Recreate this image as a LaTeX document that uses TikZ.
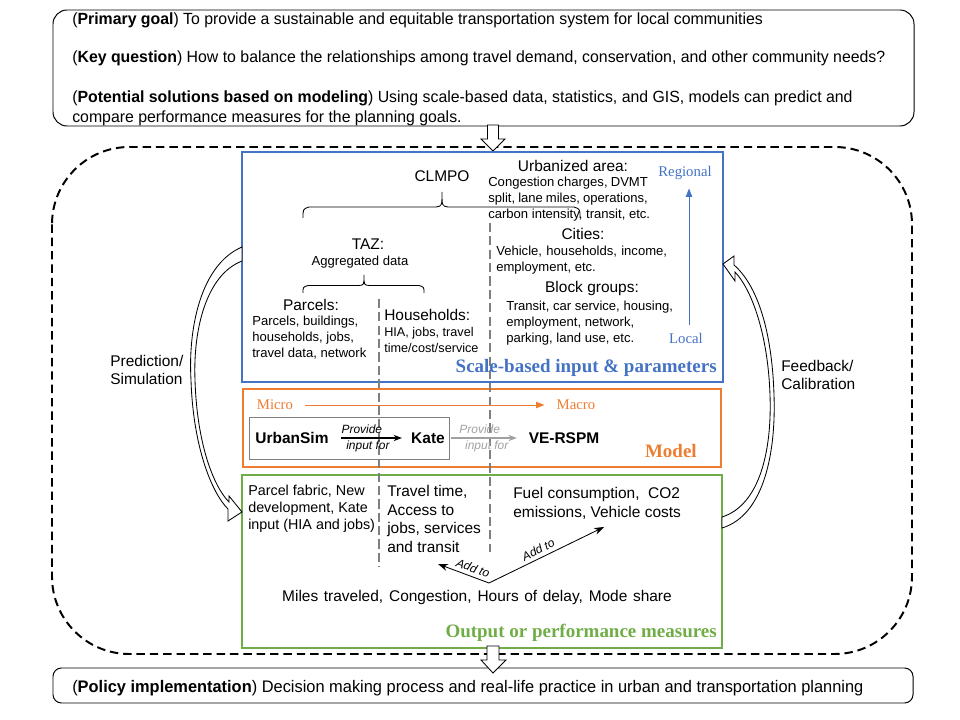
\documentclass[tikz,border=0pt]{standalone}
\usepackage{fontspec}
\setmainfont{Liberation Sans}
\newfontfamily\timesfont{Liberation Serif}
\newfontfamily\narrowfont[FakeStretch=0.98]{Liberation Sans}
\usetikzlibrary{arrows.meta}
\definecolor{scaleblue}{HTML}{4472C4}
\definecolor{modelorange}{HTML}{ED7D31}
\definecolor{outgreen}{HTML}{70AD47}
\definecolor{sepgray}{HTML}{7F7F7F}
\definecolor{softgray}{HTML}{A0A0A0}
\newcommand{\fullline}[2]{\makebox[#1][s]{#2}}

\begin{document}
\begin{tikzpicture}[x=0.025cm,y=-0.025cm]

\tikzset{smalltxt/.style={inner sep=0pt,align=left,font=\fontsize{9.3}{11.4}\selectfont}, %petit texte
	scalehead/.style={inner sep=0pt,font=\fontsize{11}{13}\selectfont},
	bodytxt/.style={inner sep=0pt,align=left,font=\fontsize{11}{13.3}\selectfont},
	narrowtxt/.style={inner sep=0pt,align=left,anchor=west,font=\narrowfont\fontsize{11.5}{14.2}\selectfont},
	boxtitle/.style={inner sep=0pt,anchor=east,font=\timesfont\bfseries\fontsize{13.5}{15}\selectfont},
	scalelbl/.style={inner sep=0pt,font=\timesfont\fontsize{10.5}{12}\selectfont},
	hollow/.style={draw=black,fill=white,line width=0.6pt},
	sepline/.style={sepgray,line width=1.3pt,dash pattern=on 6.5pt off 3pt},
	provide/.style={inner sep=0pt,font=\itshape\fontsize{8.5}{10}\selectfont},
	modelname/.style={inner sep=0pt,font=\bfseries\fontsize{11}{13}\selectfont}}

\useasboundingbox (0,0) rectangle (960,720);

%----------goal box------------
\draw[rounded corners=10pt,line width=0.7pt] (53,10) rectangle (914,126);
\node[narrowtxt] (goal) at (72,20) {(\textbf{Primary goal}) To provide a sustainable and equitable transportation system for local communities};
\node[narrowtxt] (question) at (72,58) {(\textbf{Key question}) How to balance the relationships among travel demand, conservation, and other community needs?};
\node[narrowtxt] (solution) at (72,108) {(\textbf{Potential solutions based on modeling}) Using scale-based data, statistics, and GIS, models can predict and\\compare performance measures for the planning goals.};

%cadre en tirets
\draw[line width=1.4pt,dash pattern=on 6pt off 3.5pt,rounded corners=55pt] (52,147) rectangle (912,654);

\draw[hollow] (487.5,125) -- (498.5,125) -- (498.5,139) -- (505,139) -- (493,151) -- (481,139) -- (487.5,139) -- cycle;

%----------boxes------------
\draw[scaleblue,line width=1.4pt] (242,152) rectangle (723,382);
\draw[modelorange,line width=1.4pt] (243,389) rectangle (721,467);
\draw[outgreen,line width=1.4pt] (242,475) rectangle (722,648);

%separateurs
\draw[sepline] (379,299) -- (379,567);
\draw[sepline] (490,223) -- (490,552);

%----------scale-based input------------
\node[scalehead] (clmpo) at (442,176) {CLMPO};
\draw[line width=0.6pt] (303,218) .. controls (303,209) .. (309,207) -- (436,207) .. controls (442,206) .. (442,192) .. controls (442,206) .. (448,207) -- (574,207) .. controls (580,209) .. (580,218);

\node[scalehead] (taz) at (368,244) {TAZ:};
\node[smalltxt] (aggr) at (360,262) {Aggregated data};
\draw[line width=0.6pt] (303,293) .. controls (303,287) .. (308,285.5) -- (359,285.5) .. controls (364,285) .. (364,275) .. controls (364,285) .. (369,285.5) -- (419,285.5) .. controls (424,287) .. (424,293);

\node[scalehead] (parcels) at (311,305) {Parcels:};
\node[smalltxt,anchor=west] (parcelstxt) at (252,338) {Parcels, buildings,\\households, jobs,\\travel data, network};
\node[scalehead,anchor=west] (households) at (384,315) {Households:};
\node[smalltxt,anchor=west,font=\fontsize{9}{11.4}\selectfont] (hhtxt) at (384,340) {HIA, jobs, travel\\time/cost/service};

\node[scalehead] (urban) at (573,166) {Urbanized area:};
\node[smalltxt,anchor=west] (urbantxt) at (488,199) {\fullline{113.5pt}{Congestion charges, DVMT}\\\fullline{113.5pt}{split, lane miles, operations,}\\carbon intensity, transit, etc.};
\node[scalehead] (cities) at (583,234) {Cities:};
\node[smalltxt,anchor=west] (citiestxt) at (496,260) {\fullline{121.5pt}{Vehicle, households, income,}\\employment, etc.};
\node[scalehead] (block) at (592,289) {Block groups:};
\node[smalltxt,anchor=west] (blocktxt) at (506,323) {Transit, car service, housing,\\employment, network,\\parking, land use, etc.};

\node[scalelbl,scaleblue] (regional) at (685,173) {Regional};
\node[scalelbl,scaleblue] (local) at (686,338) {Local};
\coordinate (scaleaxis) at (689,0);
\draw[scaleblue,line width=0.7pt,-{Triangle[length=6pt,width=4.5pt]},shorten <=5.5pt,shorten >=6pt] (local.north -| scaleaxis) -- (regional.south -| scaleaxis);

\node[boxtitle,scaleblue] (scaletitle) at (717,368) {Scale-based input \& parameters};

%----------model------------
\node[scalelbl,modelorange] (micro) at (275,405) {Micro};
\node[scalelbl,modelorange] (macro) at (576,405) {Macro};
\draw[modelorange,line width=0.7pt,-{Triangle[length=6pt,width=4.5pt]},shorten <=8.5pt,shorten >=8.5pt] (micro.east) -- (macro.west);

\draw[sepgray,line width=0.6pt] (249,417) rectangle (449,459);
\node[modelname] (usim) at (292,438) {UrbanSim};
\node[modelname] (kate) at (428,438) {Kate};
\node[modelname] (vrspm) at (564,438) {VE-RSPM};

\draw[line width=0.8pt,-{Stealth[length=6pt,width=4.5pt]},shorten <=9pt,shorten >=6.4pt] (usim.east) -- (kate.west)
	node[provide,midway,above=2.5pt,xshift=-5.7pt] {Provide}
	node[provide,midway,below=1.5pt,xshift=-1.4pt] {input for};
\draw[softgray,line width=0.8pt,-{Stealth[length=6pt,width=4.5pt]},shorten <=4.3pt,shorten >=8.3pt] (kate.east) -- (vrspm.west)
	node[provide,midway,above=2.5pt,xshift=-5pt] {Provide}
	node[provide,midway,below=1.5pt] {input for};

\node[boxtitle,modelorange] (modeltitle) at (697,451) {Model};

%----------output------------
\node[inner sep=0pt,align=left,anchor=west,font=\fontsize{10.2}{12.1}\selectfont] (fabric) at (248,509) {Parcel fabric, New\\development, Kate\\input (HIA and jobs)};
\node[bodytxt,anchor=west] (travel) at (387,519) {Travel time,\\Access to\\jobs, services\\and transit};
\node[bodytxt,anchor=west,font=\fontsize{11}{13.5}\selectfont] (fuel) at (513,503) {Fuel consumption,~ CO2\\emissions, Vehicle costs};
\node[bodytxt] (miles) at (477,597) {\fullline{277pt}{Miles traveled, Congestion, Hours of delay, Mode share}};

\coordinate (addpt) at (489,583);
\coordinate (traveltip) at (438,564);
\coordinate (fueltip) at (604,527);
\draw[line width=0.6pt,-{Stealth[length=7pt,width=5pt]}] (addpt) -- (traveltip) node[provide,pos=0.37,sloped,above=2.5pt] {Add to};
\draw[line width=0.6pt,-{Stealth[length=7pt,width=5pt]}] (addpt) -- (fueltip) node[provide,pos=0.46,sloped,above=2.5pt] {Add to};

\node[boxtitle,outgreen] (outtitle) at (717,633) {Output or performance measures};

%----------fleches courbes------------
\draw[hollow] (242,247) .. controls (200,265) and (188,330) .. (191,380) .. controls (193,445) and (211,492) .. (228,509) -- (228,521) -- (242,512) -- (229,496) -- (229,502) .. controls (214,487) and (197,445) .. (195,380) .. controls (193,330) and (206,275) .. (242,261) -- cycle;
\node[bodytxt,anchor=west,font=\fontsize{11}{12.8}\selectfont] (predict) at (110,370) {Prediction/\\Simulation};

\draw[hollow] (722,528) .. controls (765,515) and (776,450) .. (774,395) .. controls (772,330) and (757,285) .. (734,265) -- (734,256) -- (723,264) -- (735,281) -- (735,272) .. controls (752,290) and (768,335) .. (770,395) .. controls (772,450) and (760,505) .. (722,517) -- cycle;
\node[bodytxt,anchor=west,font=\fontsize{11}{12.8}\selectfont] (feedback) at (781,375) {Feedback/\\Calibration};

%----------policy------------
\draw[rounded corners=6pt,line width=0.7pt] (53,668) rectangle (913,703);
\node[narrowtxt,font=\narrowfont\fontsize{11.9}{14}\selectfont] (policy) at (72,688) {(\textbf{Policy implementation}) Decision making process and real-life practice in urban and transportation planning};
\draw[hollow] (487,646) -- (499,646) -- (499,660) -- (506,660) -- (493,673) -- (481,660) -- (487,660) -- cycle;

\end{tikzpicture}
\end{document}
